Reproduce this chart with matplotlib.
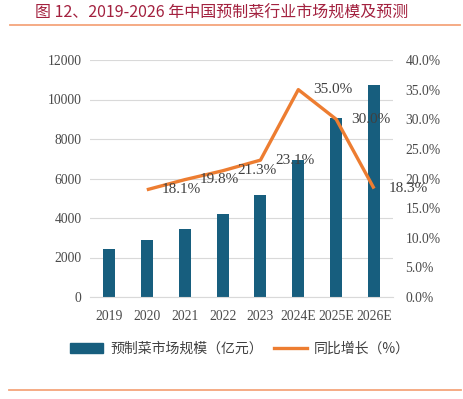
import matplotlib
matplotlib.use("Agg")
import matplotlib.pyplot as plt
from matplotlib.patches import Patch
from matplotlib.lines import Line2D

#Data
years = ["2019", "2020", "2021", "2022", "2023", "2024E", "2025E", "2026E"]
marketSize = [2415, 2886, 3443, 4203, 5165, 6957, 9063, 10734]
growthYears = ["2020", "2021", "2022", "2023", "2024E", "2025E", "2026E"]
growthRate = [18.1, 19.8, 21.3, 23.1, 35.0, 30.0, 18.3]
leftTicks = [0, 2000, 4000, 6000, 8000, 10000, 12000]
rightTicks = [0, 5, 10, 15, 20, 25, 30, 35, 40]

barColor = "#175E7E"
lineColor = "#ED7D31"
textColor = "#4A4A4A"
cjk = ["Noto Sans CJK SC", "DejaVu Sans"]
serif = "Liberation Serif"

fig = plt.figure(figsize=(4.63, 3.99), dpi=100)

#Title and orange rules
fig.text(35/463, 1 - 13/399, "图 12、2019-2026 年中国预制菜行业市场规模及预测",
         family=cjk, fontsize=11.5, color="#A3213F", va="center", ha="left")
fig.add_artist(Line2D([10/463, 460/463], [1 - 24.5/399]*2, color="#F4A57C", lw=1.3))
fig.add_artist(Line2D([9/463, 461/463], [1 - 390/399]*2, color="#F4A57C", lw=1.3))

ax = fig.add_axes([90/463, 102/399, 303/463, 237/399])
xpos = list(range(len(years)))
ax.bar(xpos, marketSize, width=0.32, color=barColor, zorder=2)
ax.set_xlim(-0.5, len(years) - 0.5)
ax.set_ylim(0, 12000)
ax.set_yticks(leftTicks)
ax.set_xticks(xpos)
ax.set_xticklabels(years)
ax.grid(axis="y", color="#D9D9D9", lw=0.8, zorder=0)
for s in ["top", "right", "left"]:
    ax.spines[s].set_visible(False)
ax.spines["bottom"].set_color("#D9D9D9")
ax.tick_params(length=0, labelsize=9.8, labelcolor=textColor, pad=6)
ax.tick_params(axis="x", pad=9)
for lab in ax.get_xticklabels() + ax.get_yticklabels():
    lab.set_family(serif)

ax2 = ax.twinx()
gx = [years.index(y) for y in growthYears]
ax2.plot(gx, growthRate, color=lineColor, lw=2.4, zorder=3, solid_capstyle="butt")
ax2.set_ylim(0, 40)
ax2.set_yticks(rightTicks)
ax2.set_yticklabels([f"{v:.1f}%" for v in rightTicks])
for s in ["top", "right", "left", "bottom"]:
    ax2.spines[s].set_visible(False)
ax2.tick_params(length=0, labelsize=9.8, labelcolor=textColor, pad=9)
for lab in ax2.get_yticklabels():
    lab.set_family(serif)

for x, v in zip(gx, growthRate):
    ax2.annotate(f"{v:.1f}%", (x, v), xytext=(10.5, 0), textcoords="offset points",
                 ha="left", va="center", fontsize=11, family=serif, color="#404040")

handles = [Patch(color=barColor), Line2D([0], [0], color=lineColor, lw=2.4)]
fig.legend(handles, ["预制菜市场规模（亿元）", "同比增长（%）"], loc="center",
           bbox_to_anchor=(240/463, 1 - 349/399), ncol=2, frameon=False,
           prop={"family": cjk, "size": 10}, handlelength=2.4, handleheight=0.7,
           columnspacing=0.8, handletextpad=0.5, labelcolor="#404040")

fig.savefig("out.png", dpi=100)
